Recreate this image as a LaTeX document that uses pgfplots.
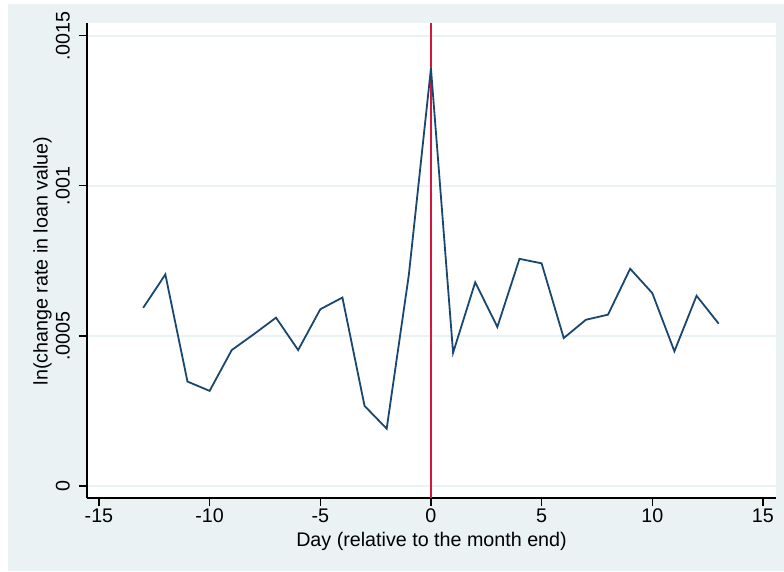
\documentclass[border=0pt]{standalone}
\usepackage{pgfplots}
\pgfplotsset{compat=1.18}
\usepackage{fontspec}
\setmainfont{Liberation Sans}
\definecolor{stbg}{RGB}{234,242,243}
\definecolor{stnavy}{RGB}{26,71,111}
\definecolor{stred}{RGB}{208,24,66}
\begin{document}
\fontsize{19.7}{22}\selectfont
\begin{tikzpicture}[x=1pt,y=1pt]
\fill[white] (0,0) rectangle (784,571);
\fill[stbg] (8,0) rectangle (784,567);
\begin{axis}[
  at={(87pt,73pt)}, anchor=south west,
  scale only axis, width=689pt, height=475pt,
  xmin=-15.54, xmax=15.59, ymin=-0.00004, ymax=0.001543,
  axis background/.style={fill=white},
  axis lines*=left,
  axis line style={black, line width=1.2pt},
  xtick={-15,-10,-5,0,5,10,15},
  xticklabels={-15,-10,-5,0,5,10,15},
  ytick={0,0.0005,0.001,0.0015},
  yticklabels={0,.0005,.001,.0015},
  scaled y ticks=false,
  tick align=outside, major tick length=8pt,
  tick style={black, line width=1.1pt},
  minor tick num=0,
  ymajorgrids, grid style={stbg, line width=1.6pt},
  ticklabel style={font=\fontsize{19.7}{22}\selectfont},
  xticklabel style={inner ysep=3pt},
  yticklabel style={rotate=90, anchor=south, inner xsep=0pt, inner ysep=9pt},
  clip=false,
]
\addplot[stred, line width=1.8pt] coordinates {(0,-0.00004) (0,0.001543)};
\addplot[stnavy, line width=1.8pt, mark=none] coordinates {
(-13,0.000594) (-12,0.000705) (-11,0.000348) (-10,0.000317) (-9,0.000453)
(-8,0.000506) (-7,0.000561) (-6,0.000453) (-5,0.000589) (-4,0.000628)
(-3,0.000267) (-2,0.000191) (-1,0.000703) (0,0.001392) (1,0.000444)
(2,0.000679) (3,0.000530) (4,0.000757) (5,0.000742) (6,0.000493)
(7,0.000554) (8,0.000571) (9,0.000724) (10,0.000643) (11,0.000449)
(12,0.000634) (13,0.000541)};
\end{axis}
\node[anchor=base] at (431.5,24.6) {Day (relative to the month end)};
\node[anchor=base, rotate=90] at (47.5,310) {ln(change rate in loan value)};
\pgfresetboundingbox
\path (0,0) rectangle (784,571);
\end{tikzpicture}
\end{document}
